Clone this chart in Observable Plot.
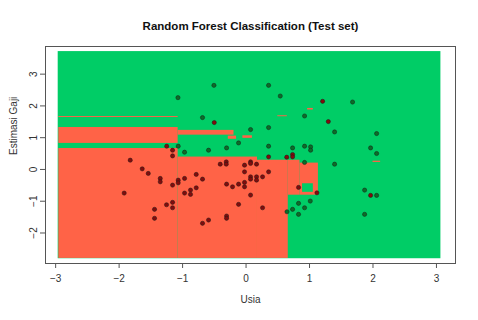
<!DOCTYPE html>
<html>
<head>
<meta charset="utf-8">
<script src="https://cdn.jsdelivr.net/npm/d3@7"></script>
<script src="https://cdn.jsdelivr.net/npm/@observablehq/plot@0.6"></script>
<style>
  html, body { margin: 0; padding: 0; background: #fff; }
  svg { display: block; }
</style>
</head>
<body>
<div id="chart"></div>
<script>
// ---- Labels ----
const chartTitle = "Random Forest Classification (Test set)";
const xLabel = "Usia";
const yLabel = "Estimasi Gaji";
const xTicks = [-3, -2, -1, 0, 1, 2, 3];
const yTicks = [-2, -1, 0, 1, 2, 3];

// ---- Prediction regions (rectangles in data space; class 1 = springgreen3, 0 = tomato) ----
const regionX1    = [-2.96,  -2.95, -1.07, 0.18, 0.665, 0.85,  0.89, -2.95, -1.07, -0.28, -0.05, -2.95, 0.50, 0.97, 2.00];
const regionX2    = [ 3.07,  -1.07,  0.18, 0.665, 0.85, 1.14,  1.06, -1.07, -0.19, -0.15,  0.10, -1.07, 0.65, 1.06, 2.12];
const regionY1    = [-2.81,  -2.80, -2.80, -2.80, -0.81, -0.81, -0.72, 0.82, 1.08, 0.95, 0.98, 1.635, 1.66, 1.87, 0.22];
const regionY2    = [ 3.71,   0.66,  0.39,  0.29,  0.29,  0.20, -0.45, 1.32, 1.23, 1.05, 1.06, 1.665, 1.69, 1.92, 0.26];
const regionClass = [ 1,      0,     0,     0,     0,     0,     1,    0,    0,    0,    0,    0,    0,    0,    0];

// ---- Test-set points ----
const pointAge = [
  -1.073, -0.506, 0.355, 0.539, 1.678, -0.686, 0.922, 1.395, 2.057, 0.071, 0.355, -0.118, 1.962, 2.057, 1.395,
  -0.591, -0.307, 0.355, 0.733, 0.922, 1.017, 1.017, 0.922, -0.969, -1.069,
  1.012, 0.827, 0.922, 0.733, 0.645, 0.827, 1.868, 2.057, 1.868,
  1.206, -0.501, 1.296, 0.355, 0.641, 0.733, 0.733, -1.25, -1.158, -1.158, 0.827, 1.117, 1.962,
  -1.825, -1.636, -1.541, -1.352, -1.352, -1.158, -1.069, -1.069, -0.969, -0.785, -0.785, -1.920, -0.969,
  -0.875, -0.875, -1.253, -1.158, -1.158, -1.442, -1.442, -0.407, -0.312, -0.312, -0.024, 0.071, 0.071,
  0.165, -0.024, 0.355, -0.686, 0.071, 0.071, 0.165, 0.165, 0.260, -0.307, -0.213, -0.118, -0.024, -0.024,
  0.071, -0.118, 0.260, -0.307, -0.307, -0.591, -0.686
];
const pointSalary = [
  2.26, 2.647, 2.647, 2.311, 2.122, 1.633, 1.683, 1.181, 1.130, 1.256, 1.319, 0.835, 0.678, 0.502, 0.166,
  0.606, 0.678, 0.732, 0.678, 0.732, 0.710, 0.606, 0.220, 0.543, 0.732,
  -0.995, -1.067, -1.206, -1.256, -1.331, -1.413, -0.650, -0.816, -1.413,
  2.144, 1.476, 1.507, 0.396, 0.386, 0.471, 0.396, 0.732, 0.606, 0.427, -0.565, -0.735, -0.816,
  0.292, 0.019, -0.126, -0.283, -0.389, -0.493, -0.336, -0.421, -0.283, -0.157, -0.578, -0.744, -0.744,
  -0.650, -0.785, -1.111, -1.036, -1.206, -1.256, -1.538, 0.166, 0.239, 0.166, 0.135, 0.239, 0.188,
  0.166, -0.075, -0.075, -0.305, -0.232, -0.305, -0.232, -0.336, -0.232, -0.462, -0.546, -0.462, -0.408, -0.546,
  -0.807, -1.099, -1.206, -1.466, -1.538, -1.592, -1.695
];
const pointClass = [
  1,1,1,1,1,1,1,1,1,1,1,1,1,1,1,
  1,1,1,1,1,1,1,1,1,1,
  1,1,1,1,1,1,1,1,1,
  0,0,0,0,0,0,0,0,0,0,0,0,0,
  0,0,0,0,0,0,0,0,0,0,0,0,0,
  0,0,0,0,0,0,0,0,0,0,0,0,0,
  0,0,0,0,0,0,0,0,0,0,0,0,0,0,
  0,0,0,0,0,0,0
];

const regions = regionX1.map((x1, i) => ({x1, x2: regionX2[i], y1: regionY1[i], y2: regionY2[i], c: regionClass[i]}));
const points = pointAge.map((a, i) => ({age: a, salary: pointSalary[i], c: pointClass[i]}));

const regionColor = c => c === 1 ? "#00cd66" : "#ff6347";
const pointColor = c => c === 1 ? "#0b6e27" : "#820c0c";

const chart = Plot.plot({
  width: 478,
  height: 320,
  marginLeft: 45,
  marginRight: 23,
  marginTop: 46,
  marginBottom: 57,
  style: {fontFamily: "'Liberation Sans', Arial, sans-serif", fontSize: "10px", color: "#333", background: "#fff"},
  x: {domain: [-3.16, 3.30]},
  y: {domain: [-2.96, 3.87]},
  marks: [
    Plot.rect(regions, {x1: "x1", x2: "x2", y1: "y1", y2: "y2", fill: d => regionColor(d.c)}),
    Plot.dot(points, {x: "age", y: "salary", r: 2.1, fill: d => pointColor(d.c), stroke: "#1a1a1a", strokeWidth: 0.5}),
    Plot.frame({stroke: "#555"}),
    Plot.axisX(xTicks, {tickSize: 5, tickPadding: 6, label: null, stroke: "#555", fontSize: 10}),
    Plot.axisY(yTicks, {tickSize: 5, tickPadding: 4, tickRotate: -90, label: null, stroke: "#555", fontSize: 10}),
    Plot.text([chartTitle], {frameAnchor: "top", dy: -25, fontWeight: "bold", fontSize: 11.5, fill: "#111"}),
    Plot.text([xLabel], {frameAnchor: "bottom", dy: 39, fontSize: 10, fill: "#333"}),
    Plot.text([yLabel], {frameAnchor: "left", dx: -32, rotate: -90, fontSize: 10, fill: "#333"})
  ]
});
document.getElementById("chart").appendChild(chart);
</script>
</body>
</html>
